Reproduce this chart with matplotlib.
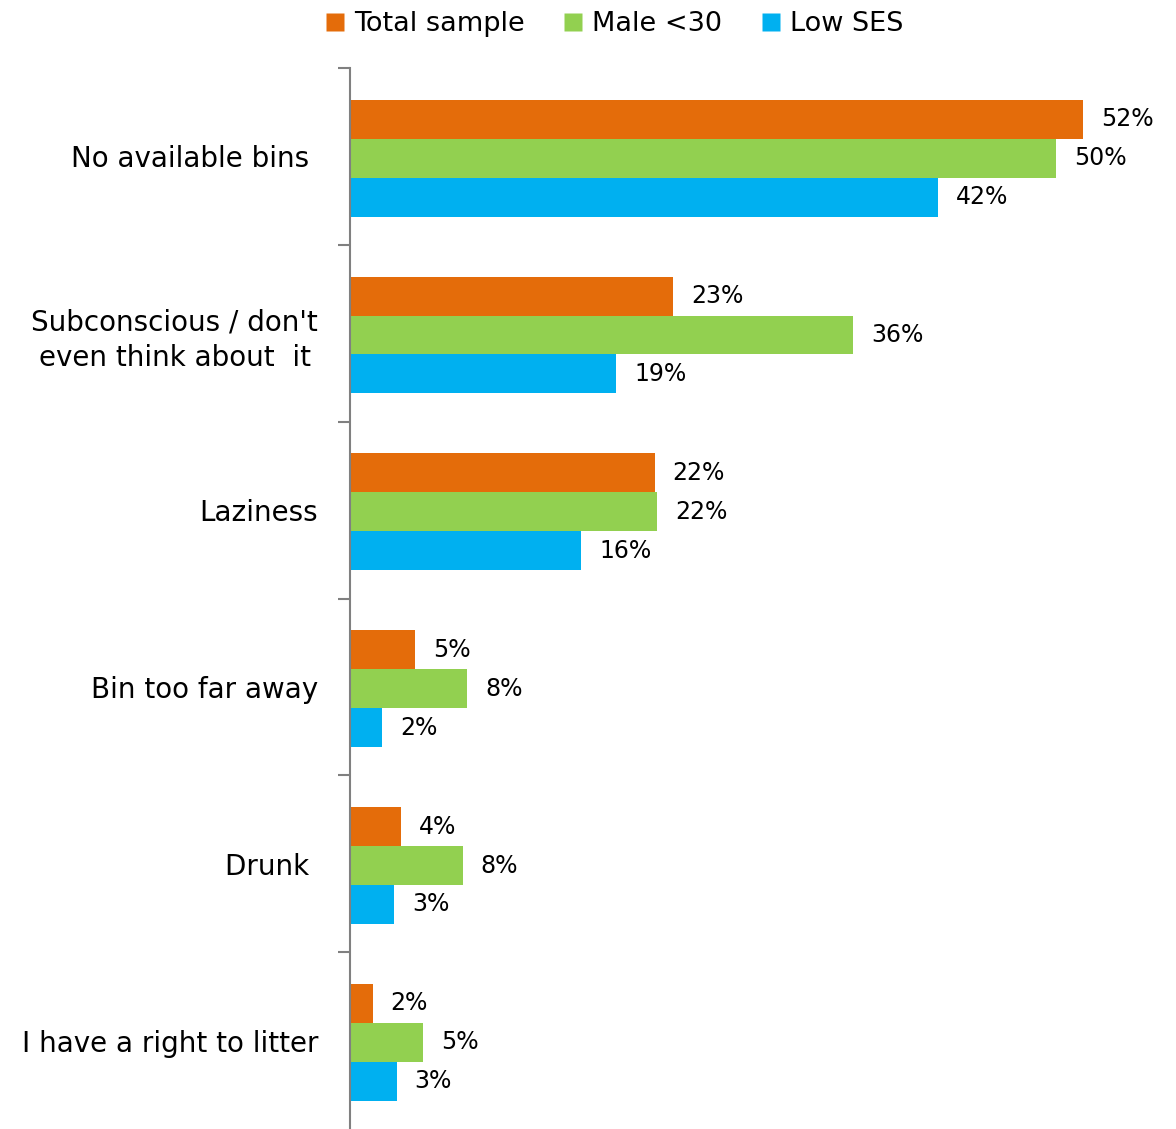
import numpy as np
import matplotlib.pyplot as plt
from matplotlib.lines import Line2D

categories = ["No available bins ", "Subconscious / don't\neven think about  it",
              "Laziness", "Bin too far away", "Drunk ", "I have a right to litter"]
series_names = ["Total sample", "Male <30", "Low SES"]
total_sample = [52.0, 22.9, 21.6, 4.6, 3.6, 1.6]
male_u30 = [50.1, 35.7, 21.8, 8.3, 8.0, 5.2]
low_ses = [41.7, 18.9, 16.4, 2.3, 3.1, 3.3]
colors = ["#E46C0A", "#92D050", "#00B0F0"]

plt.rcParams['font.family'] = 'DejaVu Sans'

fig = plt.figure(figsize=(11.76, 11.29), dpi=100)
ax = fig.add_axes([350/1176, 0.0, 810/1176, 1 - 68/1129])

y = np.arange(len(categories))
h = 0.22
for k, vals in enumerate([total_sample, male_u30, low_ses]):
    pos = y + (k - 1)*h + 0.01
    ax.barh(pos, vals, height=h, color=colors[k], edgecolor='none')
    for p, v in zip(pos, vals):
        ax.annotate("%.0f%%" % v, (v, p), xytext=(13, 0), textcoords='offset points',
                    ha='left', va='center', fontsize=17, color='black')

ax.set_xlim(0, 810/14.1)
ax.set_ylim(len(categories) - 0.5, -0.5)
ax.set_xticks([])
ax.set_yticks(y)
ax.set_yticklabels(categories, fontsize=20, multialignment='center', linespacing=1.35)
ax.tick_params(axis='y', which='major', length=0, pad=23)
ax.set_yticks(np.arange(-0.5, len(categories) - 1, 1), minor=True)
ax.tick_params(axis='y', which='minor', length=9, width=1.5, color='#808080')
for s in ['top', 'right', 'bottom']:
    ax.spines[s].set_visible(False)
ax.spines['left'].set_color('#808080')
ax.spines['left'].set_linewidth(1.5)

handles = [Line2D([], [], marker='s', linestyle='none', markersize=13,
                  markerfacecolor=c, markeredgecolor='none') for c in colors]
fig.legend(handles, series_names, loc='center', bbox_to_anchor=(615/1176, 1 - 24/1129),
           ncol=3, frameon=False, fontsize=19.5, handlelength=0.6, handletextpad=0.4,
           columnspacing=1.5, borderpad=0)

fig.savefig("out.png", dpi=100)
